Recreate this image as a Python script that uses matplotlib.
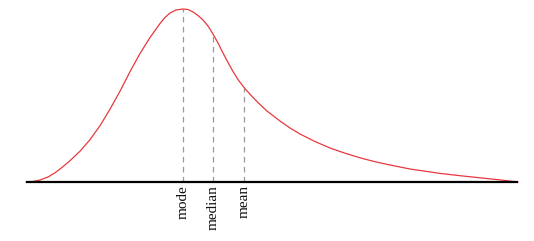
import matplotlib
matplotlib.use("Agg")
import matplotlib.pyplot as plt
import numpy as np

# curve (x position, height above baseline)
curve_x = [26, 33, 40, 48, 55, 62, 70, 80, 90, 100, 110, 120, 130, 140, 150,
           160, 165, 170, 176, 183, 188, 193, 198, 203, 208, 213, 218, 223,
           228, 233, 238, 244, 253, 260, 267, 280, 290, 300, 315, 330, 345,
           360, 375, 390, 410, 440, 460, 480, 500, 518]
curve_y = [0, 0.5, 2, 5, 9.2, 14.5, 21.3, 30.8, 42.3, 56.3, 72.8, 90.8, 110.3, 128.5, 144.5,
           158.5, 164.5, 169, 172, 173, 172.5, 170, 166.5, 162, 156, 148, 139, 129,
           119.5, 110.5, 102.5, 94.5, 84.5, 77.5, 71, 61, 54, 48, 40.5, 34, 28.8,
           24.2, 20.3, 17, 13, 8.6, 6.3, 4.2, 2.1, 0]

labels = ["mode", "median", "mean"]
label_x = [183, 213, 244]

fig = plt.figure(figsize=(5.34, 2.41), dpi=100)
ax = fig.add_axes([0, 0, 1, 1])

ax.plot(curve_x, curve_y, color="#e8383d", lw=0.9, zorder=3,
        solid_joinstyle="round")
ax.hlines(0, curve_x[0], curve_x[-1], color="black", lw=1.6, zorder=4)

tops = np.interp(label_x, curve_x, curve_y)
for lx, top, name in zip(label_x, tops, labels):
    ax.vlines(lx, 0, top, color="#999999", lw=0.9, linestyles=(0, (4.5, 3.5)), zorder=2)
    ax.text(lx, -3, name, rotation=90, ha="center", va="top",
            family="Liberation Serif", fontsize=11, color="#111111")

ax.set_xlim(0, 534)
ax.set_ylim(-59, 182)
ax.axis("off")

fig.savefig("out.png", dpi=100)
